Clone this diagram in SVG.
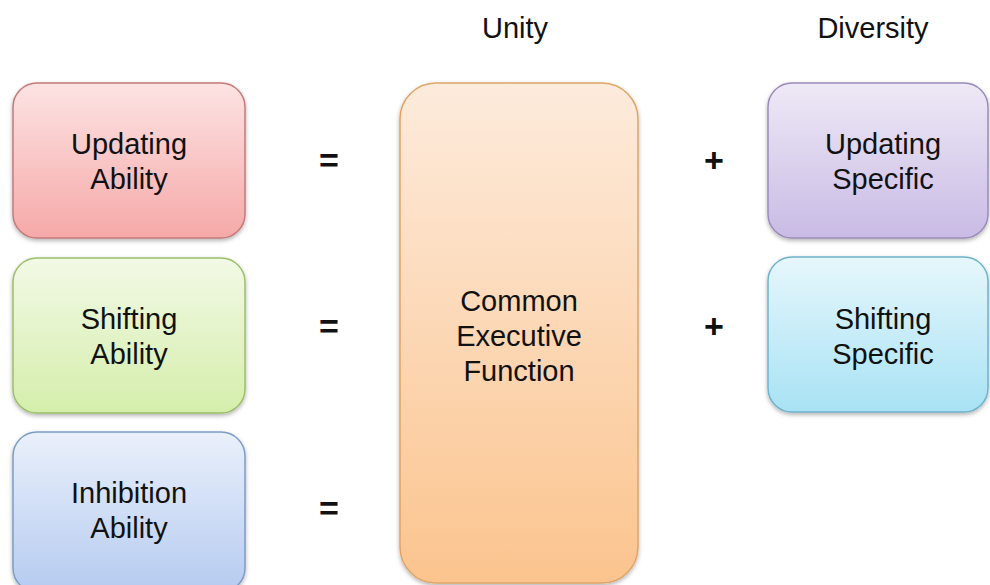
<svg xmlns="http://www.w3.org/2000/svg" width="990" height="585" viewBox="0 0 990 585">
<defs>
<linearGradient id="gRed" x1="0" y1="0" x2="0" y2="1"><stop offset="0" stop-color="#fde3e3"/><stop offset="1" stop-color="#f5a9a8"/></linearGradient>
<linearGradient id="gGreen" x1="0" y1="0" x2="0" y2="1"><stop offset="0" stop-color="#f2f9e6"/><stop offset="1" stop-color="#d5eeab"/></linearGradient>
<linearGradient id="gBlue" x1="0" y1="0" x2="0" y2="1"><stop offset="0" stop-color="#eaf0fb"/><stop offset="1" stop-color="#b5cbf0"/></linearGradient>
<linearGradient id="gOrange" x1="0" y1="0" x2="0" y2="1"><stop offset="0" stop-color="#fdebdc"/><stop offset="1" stop-color="#fbc48e"/></linearGradient>
<linearGradient id="gPurple" x1="0" y1="0" x2="0" y2="1"><stop offset="0" stop-color="#eee9f6"/><stop offset="1" stop-color="#c9bbe5"/></linearGradient>
<linearGradient id="gCyan" x1="0" y1="0" x2="0" y2="1"><stop offset="0" stop-color="#e6f7fc"/><stop offset="1" stop-color="#a8e2f4"/></linearGradient>
<filter id="sh" x="-10%" y="-10%" width="120%" height="125%"><feDropShadow dx="0" dy="2" stdDeviation="2" flood-color="#000" flood-opacity="0.3"/></filter>
</defs>
<style>
text{font-family:"Liberation Sans",Arial,sans-serif;fill:#111;text-anchor:middle}
.lbl{font-size:29px}
.op{font-size:34px;font-weight:bold}
.box{stroke-width:1.5;filter:url(#sh)}
</style>
<rect width="990" height="585" fill="#fff"/>
<g id="header-unity"><text class="lbl" x="515" y="38">Unity</text></g>
<g id="header-diversity"><text class="lbl" x="873" y="38">Diversity</text></g>
<g id="updating-ability"><rect class="box" x="13" y="83" width="232" height="155" rx="24" fill="url(#gRed)" stroke="#c47a7a"/><text class="lbl" x="129" y="154">Updating</text><text class="lbl" x="129" y="189">Ability</text></g>
<g id="shifting-ability"><rect class="box" x="13" y="258" width="232" height="155" rx="24" fill="url(#gGreen)" stroke="#9bbf6a"/><text class="lbl" x="129" y="329">Shifting</text><text class="lbl" x="129" y="364">Ability</text></g>
<g id="inhibition-ability"><rect class="box" x="13" y="432" width="232" height="160" rx="24" fill="url(#gBlue)" stroke="#7c9cc8"/><text class="lbl" x="129" y="503">Inhibition</text><text class="lbl" x="129" y="538">Ability</text></g>
<g id="common-ef"><rect class="box" x="400" y="83" width="238" height="500" rx="36" fill="url(#gOrange)" stroke="#e0a466"/><text class="lbl" x="519" y="311">Common</text><text class="lbl" x="519" y="346">Executive</text><text class="lbl" x="519" y="381">Function</text></g>
<g id="updating-specific"><rect class="box" x="768" y="83" width="220" height="155" rx="24" fill="url(#gPurple)" stroke="#9a8cb8"/><text class="lbl" x="883" y="154">Updating</text><text class="lbl" x="883" y="189">Specific</text></g>
<g id="shifting-specific"><rect class="box" x="768" y="257" width="220" height="155" rx="24" fill="url(#gCyan)" stroke="#6fb3c9"/><text class="lbl" x="883" y="329">Shifting</text><text class="lbl" x="883" y="364">Specific</text></g>
<g id="connectors">
<text class="op" x="329" y="172">=</text>
<text class="op" x="329" y="338">=</text>
<text class="op" x="329" y="520">=</text>
<text class="op" x="714" y="172">+</text>
<text class="op" x="714" y="338">+</text>
</g>
</svg>
